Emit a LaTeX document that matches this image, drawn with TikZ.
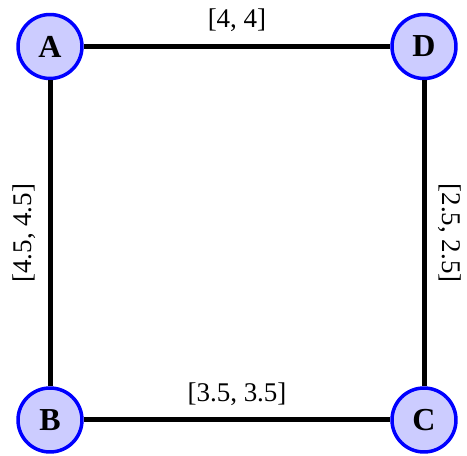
\documentclass[tikz,border=0pt]{standalone}
\usepackage{fontspec}
\setmainfont{Liberation Serif}
\usepackage{tikz}
\usetikzlibrary{positioning}

\begin{document}
\begin{tikzpicture}
    [line cap=round,line join=round,x=1pt,y=1pt,
     vertex/.style={circle,draw=blue,fill=blue!20,line width=3.5pt,minimum size=64pt,inner sep=0pt,font=\fontsize{32}{34}\selectfont\bfseries},
     link/.style={line width=5pt,line cap=butt},
     wlabel/.style={font=\fontsize{27}{30}\selectfont,inner sep=3pt}]
%bounding box of the picture
\useasboundingbox (0,0) rectangle (467,456);
%the four vertices
 \node[vertex] (A) at (50,409.5) {A};
 \node[vertex] (D) at (424,409.5) {D};
 \node[vertex] (B) at (50,36) {B};
 \node[vertex] (C) at (424,36) {C};
%edges with their weights
 \draw[link] (A) -- (D) node [midway,above=9pt,wlabel] {[4, 4]};
 \draw[link] (B) -- (A) node [midway,sloped,above=9pt,wlabel] {[4.5, 4.5]};
 \draw[link] (D) -- (C) node [midway,sloped,above=9pt,wlabel] {[2.5, 2.5]};
 \draw[link] (B) -- (C) node [midway,above=9pt,wlabel] {[3.5, 3.5]};
\end{tikzpicture}
\end{document}
